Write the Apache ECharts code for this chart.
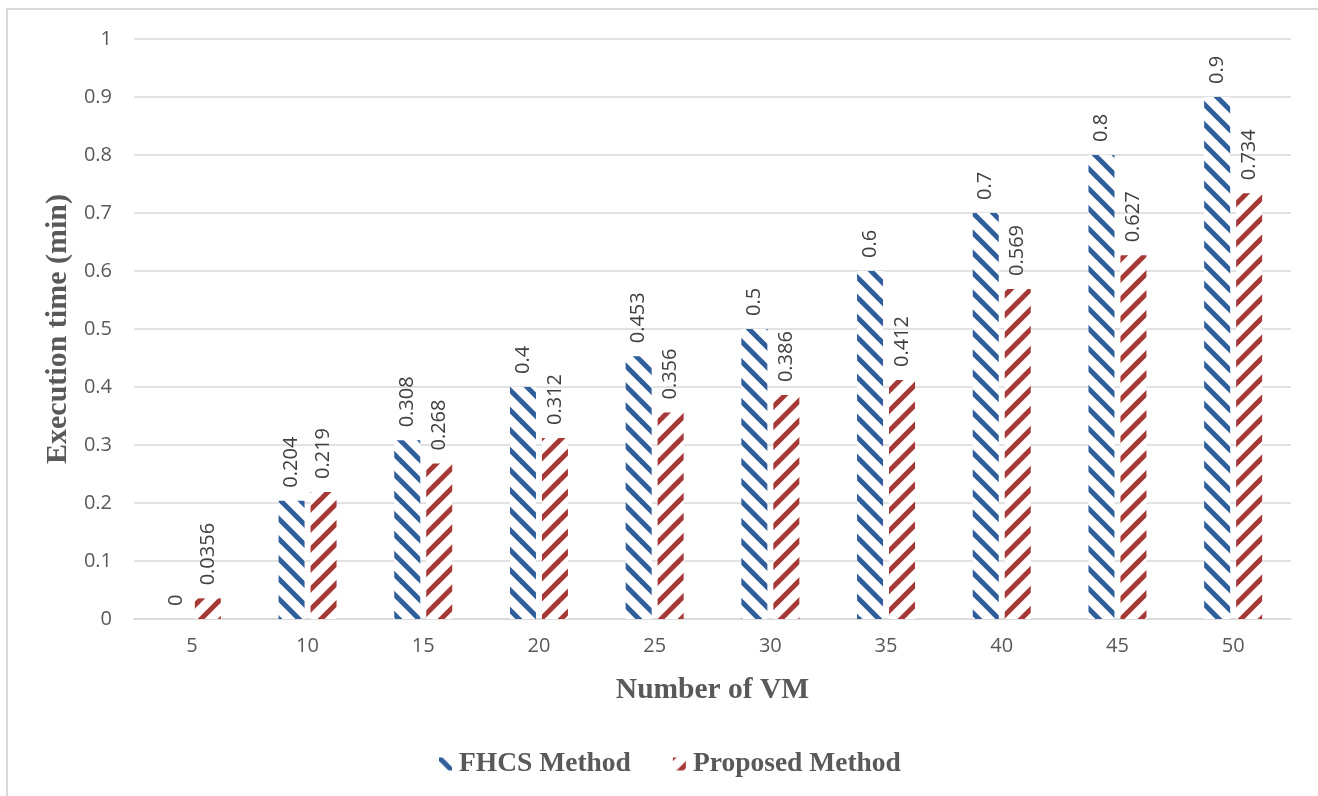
<!DOCTYPE html>
<html>
<head>
<meta charset="utf-8">
<script src="https://cdn.jsdelivr.net/npm/echarts@6/dist/echarts.min.js"></script>
<style>
  html, body { margin: 0; padding: 0; background: #ffffff; }
  #chart { width: 1318px; height: 796px; }
</style>
</head>
<body>
<div id="chart"></div>
<script>
// Number of virtual machines on the x axis
const vmCounts = ['5', '10', '15', '20', '25', '30', '35', '40', '45', '50'];
// Execution time in minutes
const fhcsTimes = [0, 0.204, 0.308, 0.4, 0.453, 0.5, 0.6, 0.7, 0.8, 0.9];
const proposedTimes = [0.0356, 0.219, 0.268, 0.312, 0.356, 0.386, 0.412, 0.569, 0.627, 0.734];
const seriesNames = ['FHCS Method', 'Proposed Method'];

// Diagonal hatch tile; dir = 1 draws "\" stripes, dir = -1 draws "/" stripes
function hatch(color, dir) {
  const s = 20;
  const c = document.createElement('canvas');
  c.width = s; c.height = s;
  const g = c.getContext('2d');
  g.fillStyle = '#ffffff';
  g.fillRect(0, 0, s, s);
  g.strokeStyle = color;
  g.lineWidth = 5;
  for (let k = -1; k <= 1; k++) {
    g.beginPath();
    if (dir > 0) {
      g.moveTo(-s, -s + k * s);
      g.lineTo(2 * s, 2 * s + k * s);
    } else {
      g.moveTo(-s, 2 * s + k * s);
      g.lineTo(2 * s, -s + k * s);
    }
    g.stroke();
  }
  return { image: c, repeat: 'repeat' };
}

const blueHatch = hatch('#2f5e9a', 1);
const redHatch = hatch('#a63836', -1);

const tickFont = { fontFamily: 'Open Sans', fontSize: 20, color: '#595959' };
const titleFont = { fontFamily: 'Liberation Serif', fontWeight: 'bold', color: '#595959' };

const valueLabel = {
  show: true,
  position: 'top',
  rotate: 90,
  align: 'left',
  verticalAlign: 'middle',
  distance: 13,
  fontFamily: 'Open Sans',
  fontSize: 20,
  color: '#404040'
};

const chart = echarts.init(document.getElementById('chart'), null, { renderer: 'canvas' });
chart.setOption({
  animation: false,
  backgroundColor: '#ffffff',
  grid: { left: 134, right: 27, top: 39, bottom: 177 },
  xAxis: {
    type: 'category',
    data: vmCounts,
    name: 'Number of VM',
    nameLocation: 'middle',
    nameGap: 56,
    nameTextStyle: Object.assign({ fontSize: 29.5 }, titleFont),
    axisLine: { lineStyle: { color: '#d9d9d9', width: 1.5 } },
    axisTick: { show: false },
    axisLabel: Object.assign({ margin: 17 }, tickFont)
  },
  yAxis: {
    type: 'value',
    min: 0,
    max: 1,
    interval: 0.1,
    name: 'Execution time (min)',
    nameLocation: 'middle',
    nameGap: 58,
    nameTextStyle: Object.assign({ fontSize: 30 }, titleFont),
    axisLine: { show: false },
    axisTick: { show: false },
    axisLabel: Object.assign({ margin: 22 }, tickFont),
    splitLine: { lineStyle: { color: '#d9d9d9', width: 1.5 } }
  },
  legend: {
    left: 434,
    top: 745,
    itemWidth: 13,
    itemHeight: 13,
    itemGap: 42,
    icon: 'rect',
    textStyle: {
      fontFamily: 'Liberation Serif',
      fontWeight: 'bold',
      fontSize: 27.5,
      color: '#595959',
      padding: [0, 0, 0, 2]
    },
    data: seriesNames
  },
  series: [
    {
      name: seriesNames[0],
      type: 'bar',
      data: fhcsTimes,
      barWidth: 26,
      barGap: '23%',
      itemStyle: { color: blueHatch },
      label: valueLabel
    },
    {
      name: seriesNames[1],
      type: 'bar',
      data: proposedTimes,
      barWidth: 26,
      barGap: '23%',
      itemStyle: { color: redHatch },
      label: valueLabel
    }
  ],
  graphic: [
    {
      type: 'polyline',
      silent: true,
      shape: { points: [[7, 796], [7, 9], [1318, 9]] },
      style: { stroke: '#d9d9d9', lineWidth: 2, fill: null }
    }
  ]
});
</script>
</body>
</html>
